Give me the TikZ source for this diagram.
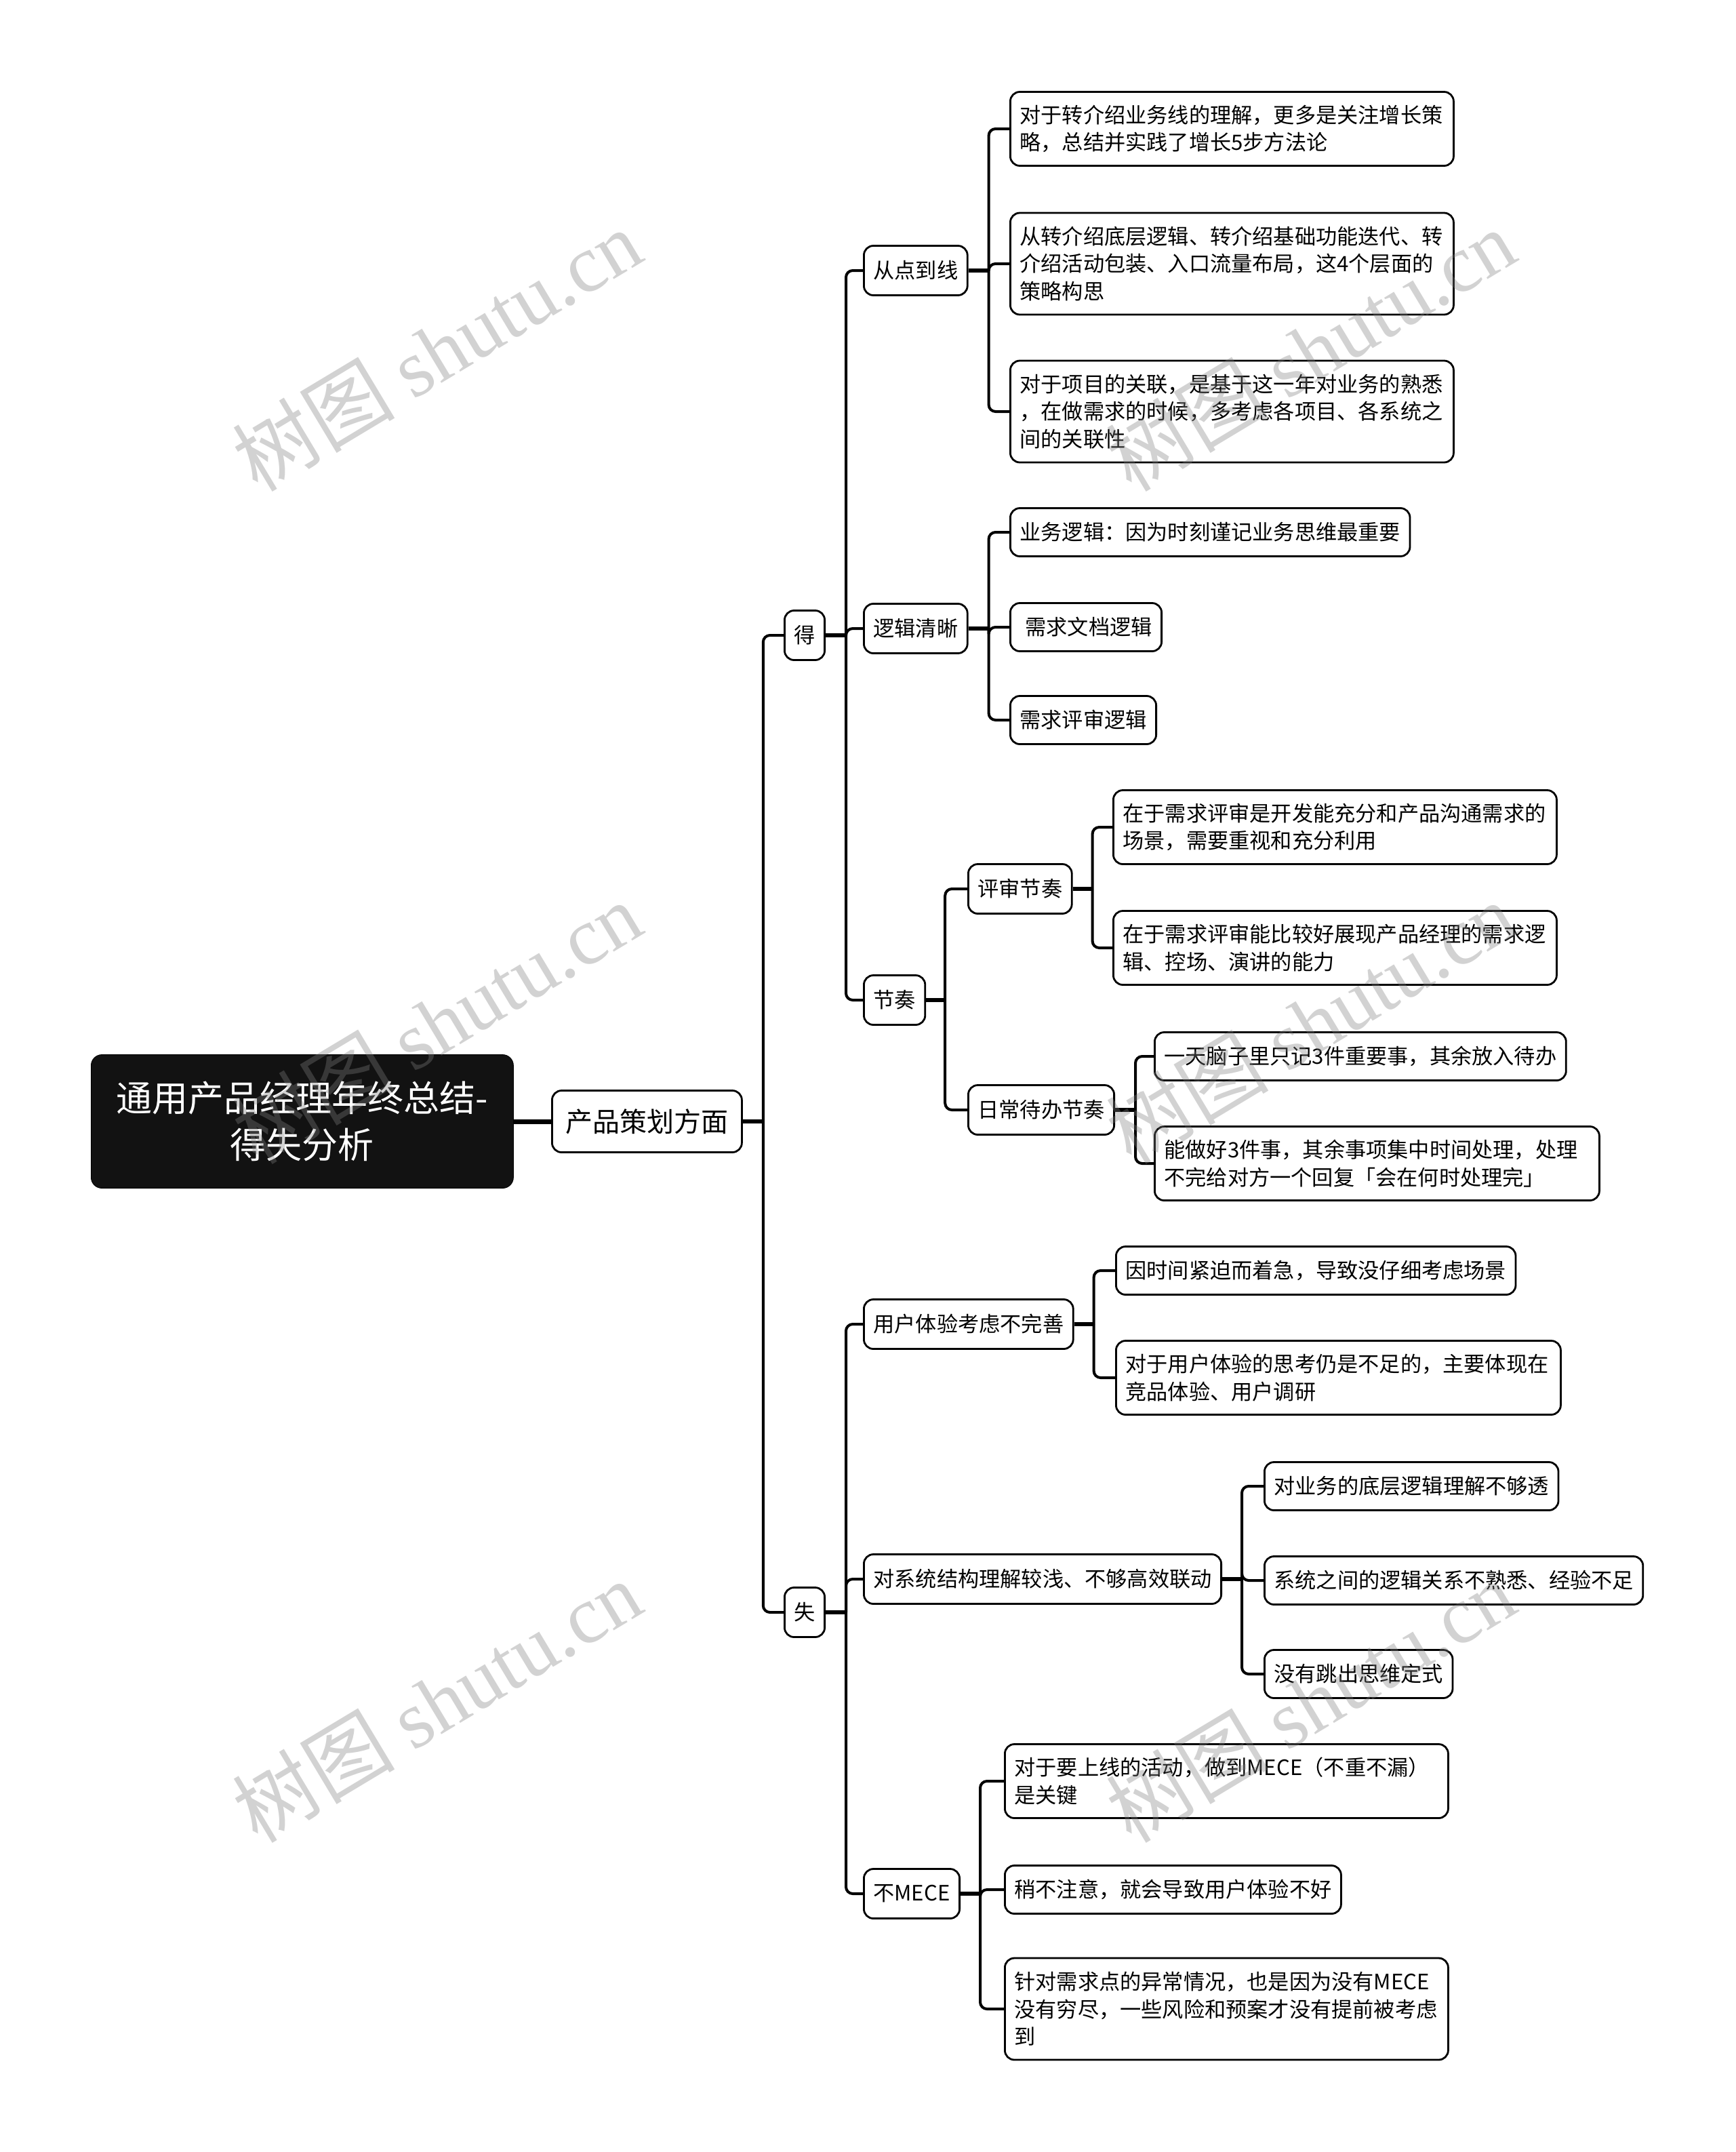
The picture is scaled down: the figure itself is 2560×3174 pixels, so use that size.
\documentclass[tikz,border=0pt]{standalone}
\usepackage{fontspec}
\setmainfont{Noto Sans CJK SC}
\newfontfamily\wmserif{Liberation Serif}
\newcommand{\leaffont}{\fontsize{15.6pt}{20.2pt}\selectfont}
\newcommand{\prodfont}{\fontsize{20pt}{24pt}\selectfont}
\newcommand{\rootfont}{\fontsize{26.5pt}{34.4pt}\selectfont}
\begin{document}
\begin{tikzpicture}[x=0.5pt,y=-0.5pt,
  box/.style={draw=black, line width=1.4pt, rounded corners=7pt, fill=white, font=\leaffont, align=left, inner xsep=7pt, inner ysep=3pt, anchor=west},
  mid/.style={box, minimum height=36.5pt},
  leafa/.style={box, minimum height=35.5pt},
  leafb/.style={box, minimum height=54.5pt},
  leafc/.style={box, minimum height=75pt},
  stub/.style={line width=3.2pt},
  branch/.style={line width=2pt, rounded corners=5pt},
  wm/.style={rotate=31, text=gray, opacity=0.35, font=\fontsize{60pt}{60pt}\selectfont}
]
\useasboundingbox (0,0) rectangle (2560,3174);
\fill[white] (0,0) rectangle (2560,3174);

% root and first level
\node[draw=black, fill=black!93, rounded corners=8pt, text=white, font=\rootfont, align=center, minimum width=311.5pt, minimum height=98.5pt, anchor=west, inner sep=0pt] (root) at (134,1654) {通用产品经理年终总结-\\得失分析};
\node[box, font=\prodfont, inner xsep=10pt, minimum height=45.5pt] (prod) at (813,1654) {产品策划方面};
\node[mid] (de) at (1156,937) {得};
\node[mid] (shi) at (1156,2378) {失};

% children of 得
\node[mid] (c1) at (1273,399) {从点到线};
\node[mid] (c2) at (1273,927) {逻辑清晰};
\node[mid] (c3) at (1273,1475) {节奏};

\node[leafb, text width=313pt] (l1) at (1489,190) {对于转介绍业务线的理解，更多是关注增长策\\略，总结并实践了增长5步方法论};
\node[leafc, text width=313pt] (l2) at (1489,389) {从转介绍底层逻辑、转介绍基础功能迭代、转\\介绍活动包装、入口流量布局，这4个层面的\\策略构思};
\node[leafc, text width=313pt] (l3) at (1489,607) {对于项目的关联，是基于这一年对业务的熟悉\\，在做需求的时候，多考虑各项目、各系统之\\间的关联性};

\node[leafa] (l4) at (1489,785) {业务逻辑：因为时刻谨记业务思维最重要};
\node[leafa] (l5) at (1489,925) {\hspace{4pt}需求文档逻辑};
\node[leafa] (l6) at (1489,1062) {需求评审逻辑};

\node[mid] (c31) at (1427,1311) {评审节奏};
\node[mid] (c32) at (1427,1637) {日常待办节奏};

\node[leafb, text width=313pt] (l7) at (1641,1220) {在于需求评审是开发能充分和产品沟通需求的\\场景，需要重视和充分利用};
\node[leafb, text width=313pt] (l8) at (1641,1398) {在于需求评审能比较好展现产品经理的需求逻\\辑、控场、演讲的能力};
\node[leafa] (l9) at (1702,1558) {一天脑子里只记3件重要事，其余放入待办};
\node[leafb, text width=314pt] (l10) at (1702,1716) {能做好3件事，其余事项集中时间处理，处理\\不完给对方一个回复「会在何时处理完」};

% children of 失
\node[mid] (d1) at (1273,1953) {用户体验考虑不完善};
\node[mid] (d2) at (1273,2329) {对系统结构理解较浅、不够高效联动};
\node[mid] (d3) at (1273,2793) {不MECE};

\node[leafa] (l11) at (1645,1874) {因时间紧迫而着急，导致没仔细考虑场景};
\node[leafb, text width=314pt] (l12) at (1645,2032) {对于用户体验的思考仍是不足的，主要体现在\\竞品体验、用户调研};
\node[leafa] (l13) at (1864,2192) {对业务的底层逻辑理解不够透};
\node[leafa] (l14) at (1864,2331) {系统之间的逻辑关系不熟悉、经验不足};
\node[leafa] (l15) at (1864,2469) {没有跳出思维定式};
\node[leafb, text width=313pt] (l16) at (1481,2627) {对于要上线的活动，做到MECE（不重不漏）\\是关键};
\node[leafa] (l17) at (1481,2787) {稍不注意，就会导致用户体验不好};
\node[leafc, text width=313pt] (l18) at (1481,2963) {针对需求点的异常情况，也是因为没有MECE\\没有穷尽，一些风险和预案才没有提前被考虑\\到};

% connectors
\draw[line width=3.5pt] (root.east) -- (prod.west);

\draw[stub] (prod.east) -- ++(30,0) coordinate (jprod);
\draw[branch] (jprod) |- (de.west);
\draw[branch] (jprod) |- (shi.west);

\draw[stub] (de.east) -- ++(30,0) coordinate (jde);
\draw[branch] (jde) |- (c1.west);
\draw[branch] (jde) |- (c2.west);
\draw[branch] (jde) |- (c3.west);

\draw[stub] (c1.east) -- ++(30,0) coordinate (jc1);
\draw[branch] (jc1) |- (l1.west);
\draw[branch] (jc1) |- (l2.west);
\draw[branch] (jc1) |- (l3.west);

\draw[stub] (c2.east) -- ++(30,0) coordinate (jc2);
\draw[branch] (jc2) |- (l4.west);
\draw[branch] (jc2) |- (l5.west);
\draw[branch] (jc2) |- (l6.west);

\draw[stub] (c3.east) -- ++(28,0) coordinate (jc3);
\draw[branch] (jc3) |- (c31.west);
\draw[branch] (jc3) |- (c32.west);

\draw[stub] (c31.east) -- ++(29,0) coordinate (jc31);
\draw[branch] (jc31) |- (l7.west);
\draw[branch] (jc31) |- (l8.west);

\draw[stub] (c32.east) -- ++(30,0) coordinate (jc32);
\draw[branch] (jc32) |- (l9.west);
\draw[branch] (jc32) |- (l10.west);

\draw[stub] (shi.east) -- ++(30,0) coordinate (jshi);
\draw[branch] (jshi) |- (d1.west);
\draw[branch] (jshi) |- (d2.west);
\draw[branch] (jshi) |- (d3.west);

\draw[stub] (d1.east) -- ++(29,0) coordinate (jd1);
\draw[branch] (jd1) |- (l11.west);
\draw[branch] (jd1) |- (l12.west);

\draw[stub] (d2.east) -- ++(29,0) coordinate (jd2);
\draw[branch] (jd2) |- (l13.west);
\draw[branch] (jd2) |- (l14.west);
\draw[branch] (jd2) |- (l15.west);

\draw[stub] (d3.east) -- ++(29,0) coordinate (jd3);
\draw[branch] (jd3) |- (l16.west);
\draw[branch] (jd3) |- (l17.west);
\draw[branch] (jd3) |- (l18.west);

% watermarks
\node[wm] (w1) at (644,516) {树图 {\wmserif shutu.cn}};
\node[wm] (w2) at (644,1508) {树图 {\wmserif shutu.cn}};
\node[wm] (w3) at (644,2509) {树图 {\wmserif shutu.cn}};
\node[wm] (w4) at (1933,516) {树图 {\wmserif shutu.cn}};
\node[wm] (w5) at (1933,1508) {树图 {\wmserif shutu.cn}};
\node[wm] (w6) at (1933,2509) {树图 {\wmserif shutu.cn}};
\end{tikzpicture}
\end{document}
